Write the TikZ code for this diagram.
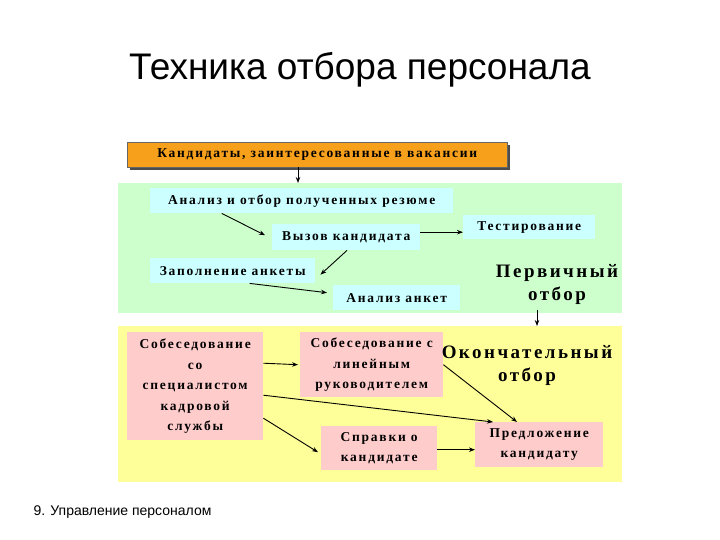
\documentclass[tikz,border=0pt]{standalone}
\usepackage{fontspec}
\setmainfont{Liberation Sans}
\newfontfamily\dfont[LetterSpace=13]{Liberation Serif}
\usetikzlibrary{arrows.meta}
\definecolor{lgreen}{HTML}{CCFFCC}
\definecolor{lcyan}{HTML}{CCFFFF}
\definecolor{lyellow}{HTML}{FFFF99}
\definecolor{lpink}{HTML}{FFCCCC}
\definecolor{orng}{HTML}{F7A01C}
\tikzset{
 x=1pt,y=-1pt,
 cbox/.style={fill=lcyan,inner sep=0,font=\dfont\bfseries\fontsize{13.5}{15}\selectfont,align=center},
 pbox/.style={fill=lpink,inner sep=0,font=\dfont\bfseries\fontsize{13.5}{20.5}\selectfont,align=center},
 big/.style={font=\dfont\bfseries\fontsize{19}{23}\selectfont,align=center},
 arr/.style={-{Stealth[length=6pt,width=4.5pt]},line width=0.9pt}
}
\begin{document}
\begin{tikzpicture}
\useasboundingbox[fill=white] (0,0) rectangle (720,540);
\node[font=\fontsize{37}{42}\selectfont] (title) at (360,70) {Техника отбора персонала};
% regions
\fill[lgreen] (118,183) rectangle (622,313);
\fill[lyellow] (118,326) rectangle (622,482);
\fill[black!70] (130,145) rectangle (510,170);
\node[fill=orng,draw=black!60,minimum width=380,minimum height=25,anchor=north west,inner sep=0,font=\dfont\bfseries\fontsize{13.5}{15}\selectfont] (cand) at (127,142) {Кандидаты, заинтересованные в вакансии};
\coordinate (gtop) at (298,183);
% green nodes
\node[cbox,minimum width=303,minimum height=25,anchor=north west] (rez) at (150,188) {Анализ и отбор полученных резюме};
\node[cbox,minimum width=148,minimum height=26,anchor=north west] (vyz) at (272,224) {Вызов кандидата};
\node[cbox,minimum width=132,minimum height=24,anchor=north west] (test) at (463,215) {Тестирование};
\node[cbox,minimum width=165,minimum height=25,anchor=north west] (zap) at (150,258) {Заполнение анкеты};
\node[cbox,minimum width=127,minimum height=25,anchor=north west] (ank) at (333,285) {Анализ анкет};
\node[big] (perv) at (557,284) {Первичный\\отбор};
\coordinate (ytop) at (537,326);
% yellow nodes
\node[pbox,minimum width=136,minimum height=108,anchor=north west] (sob1) at (127,332) {Собеседование\\со\\специалистом\\кадровой\\службы};
\node[pbox,minimum width=143,minimum height=65,anchor=north west] (sob2) at (300,332) {Собеседование с\\линейным\\руководителем};
\node[pbox,minimum width=116,minimum height=44,anchor=north west] (spr) at (321,426) {Справки о\\кандидате};
\node[pbox,minimum width=128,minimum height=45,anchor=north west] (pred) at (475,422) {Предложение\\кандидату};
\node[big] (okon) at (527,365) {Окончательный\\отбор};
\node[font=\fontsize{14}{16}\selectfont,anchor=west] (foot) at (30,512) {9. Управление персоналом};
% arrows
\draw[arr] (cand.south -| gtop) -- (gtop);
\draw[arr] ([xshift=-80pt]rez.south) -- ([xshift=-7pt,yshift=2pt]vyz.west);
\draw[arr] ([yshift=5pt]vyz.east) -- ([yshift=5pt]vyz.east -| test.west);
\draw[arr] ([xshift=75pt]vyz.south west) -- ([xshift=5pt,yshift=-4pt]zap.east);
\draw[arr] ([xshift=17pt]zap.south) -- ([xshift=-6pt,yshift=5pt]ank.west);
\draw[arr] ([yshift=-2pt]perv.south -| ytop) -- (ytop);
\draw[arr] ([yshift=23pt]sob1.east) -- ([xshift=-2pt]sob2.west);
\draw[arr] ([yshift=-9pt]sob1.east) -- ([xshift=18pt]pred.north west);
\draw[arr] ([yshift=-32pt]sob1.east) -- ([xshift=-3pt,yshift=-4pt]spr.west);
\draw[arr] (sob2.east) -- ([xshift=42pt]pred.north west);
\draw[arr] ([yshift=-5pt]pred.west -| spr.east) -- ([yshift=-5pt]pred.west);
\end{tikzpicture}
\end{document}
